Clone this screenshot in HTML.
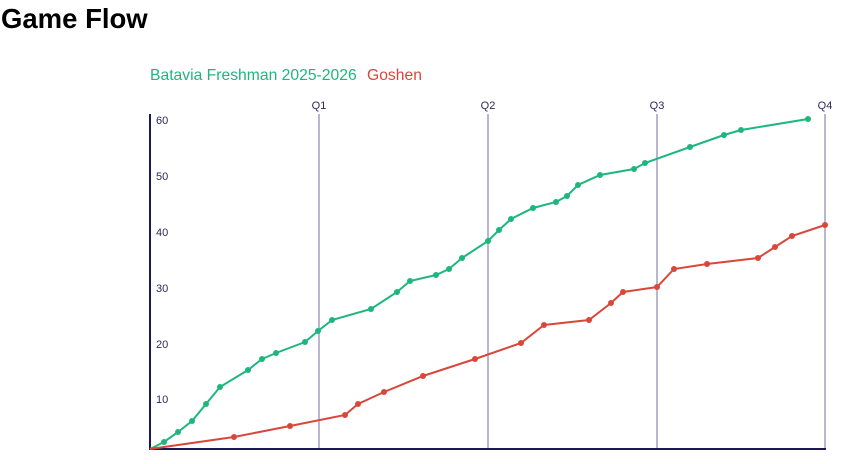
<!DOCTYPE html>
<html><head><style>
body{margin:0;background:#fff;width:866px;height:464px;overflow:hidden;position:relative;font-family:"Liberation Sans",sans-serif}
h1{position:absolute;left:1px;top:3px;margin:0;font-size:27.5px;font-weight:bold;color:#000}
</style></head><body>
<h1>Game Flow</h1>
<svg width="866" height="464" style="position:absolute;left:0;top:0">
<text x="150" y="80" font-size="15.7" fill="#1db77e" font-family="Liberation Sans,sans-serif">Batavia Freshman 2025-2026</text>
<text x="367" y="80" font-size="15.7" fill="#d9473b" font-family="Liberation Sans,sans-serif">Goshen</text>
<g stroke="#8a86b8" stroke-width="1.2">
<line x1="319" y1="114" x2="319" y2="449"/><line x1="488" y1="114" x2="488" y2="449"/><line x1="657" y1="114" x2="657" y2="449"/><line x1="825" y1="114" x2="825" y2="449"/>
</g>
<g font-size="11" fill="#2d2a5a" text-anchor="middle" font-family="Liberation Sans,sans-serif">
<text x="319" y="109">Q1</text><text x="488" y="109">Q2</text><text x="657" y="109">Q3</text><text x="825" y="109">Q4</text>
</g>
<g font-size="11" fill="#2d2a5a" font-family="Liberation Sans,sans-serif">
<text x="156" y="124">60</text><text x="156" y="180">50</text><text x="156" y="236">40</text><text x="156" y="292">30</text><text x="156" y="348">20</text><text x="156" y="403">10</text>
</g>
<line x1="150" y1="114" x2="150" y2="450" stroke="#1c1852" stroke-width="2"/>
<line x1="149" y1="449" x2="826" y2="449" stroke="#1c1852" stroke-width="2"/>
<polyline fill="none" stroke="#1db77e" stroke-width="2" points="150,449 164,442 178,432 192,421 206,404 220,387 248,370 262,359 276,353 305,342 318,331 332,320 371,309 397,292 410,281 436,275 449,269 462,258 488,241 499,230 511,219 533,208 556,202 567,196 578,185 600,175 634,169 645,163 690,147 724,135 741,130 808,119"/>
<polyline fill="none" stroke="#d9473b" stroke-width="2" points="150,449 234,437 290,426 345,415 358,404 384,392 423,376 475,359 521,343 544,325 589,320 611,303 623,292 657,287 674,269 707,264 758,258 775,247 792,236 825,225"/>
<script>
var G=[[164,442],[178,432],[192,421],[206,404],[220,387],[248,370],[262,359],[276,353],[305,342],[318,331],[332,320],[371,309],[397,292],[410,281],[436,275],[449,269],[462,258],[488,241],[499,230],[511,219],[533,208],[556,202],[567,196],[578,185],[600,175],[634,169],[645,163],[690,147],[724,135],[741,130],[808,119]];
var R=[[234,437],[290,426],[345,415],[358,404],[384,392],[423,376],[475,359],[521,343],[544,325],[589,320],[611,303],[623,292],[657,287],[674,269],[707,264],[758,258],[775,247],[792,236],[825,225]];
var s=document.querySelector('svg'),ns='http://www.w3.org/2000/svg';
function d(a,c){a.forEach(function(p){var e=document.createElementNS(ns,'circle');e.setAttribute('cx',p[0]);e.setAttribute('cy',p[1]);e.setAttribute('r',3);e.setAttribute('fill',c);s.appendChild(e);});}
d(G,'#1db77e');d(R,'#d9473b');
</script>
</svg>
</body></html>
